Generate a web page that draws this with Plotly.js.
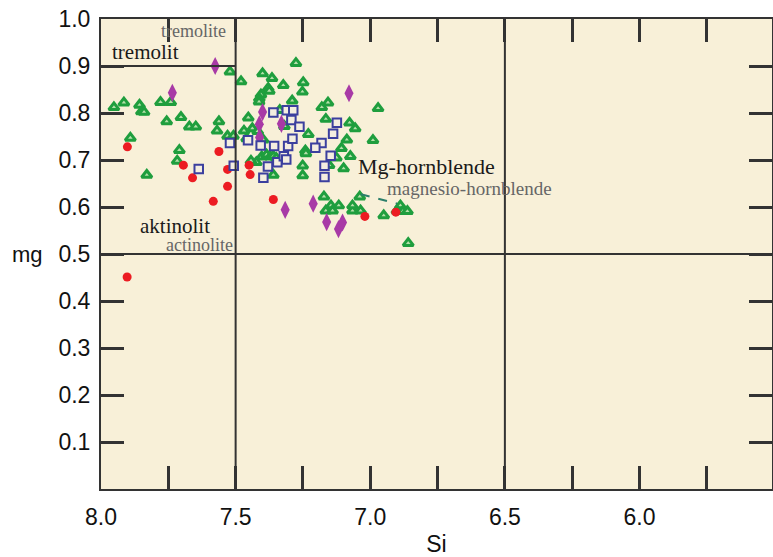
<!DOCTYPE html>
<html>
<head>
<meta charset="utf-8">
<script src="https://cdn.plot.ly/plotly-3.0.1.min.js"></script>
<style>html,body{margin:0;padding:0;background:#fff;}#chart{width:773px;height:557px;}</style>
</head>
<body>
<div id="chart"></div>
<script>
// ---- data (Si, mg) ----
const greenSi = [7.952,7.915,7.857,7.850,7.840,7.779,7.741,7.756,7.703,7.672,7.648,7.562,7.569,7.530,7.508,7.891,7.709,7.717,7.830,7.521,7.480,
  7.400,7.365,7.379,7.375,7.323,7.276,7.249,7.252,7.406,7.412,7.413,7.290,7.336,7.180,7.157,7.165,7.230,7.453,7.469,7.438,7.418,7.459,7.398,7.319,
  7.403,7.423,7.385,7.371,7.360,7.349,7.241,7.239,7.251,7.251,7.360,6.971,7.077,7.056,7.087,6.990,7.107,7.074,7.126,7.153,7.099,
  7.172,7.039,7.146,7.117,7.165,7.140,7.066,7.036,7.066,6.950,6.888,6.901,6.879,6.862,6.859,7.443,7.332];
const greenMg = [0.812,0.822,0.817,0.803,0.802,0.823,0.823,0.782,0.791,0.771,0.771,0.782,0.762,0.751,0.751,0.747,0.721,0.698,0.668,0.888,0.867,
  0.884,0.874,0.853,0.847,0.859,0.906,0.865,0.845,0.839,0.831,0.824,0.826,0.806,0.812,0.822,0.787,0.755,0.790,0.762,0.767,0.761,0.746,0.743,0.772,
  0.707,0.695,0.711,0.707,0.708,0.704,0.720,0.714,0.688,0.667,0.668,0.810,0.779,0.767,0.743,0.742,0.725,0.708,0.705,0.689,0.682,
  0.622,0.622,0.603,0.603,0.592,0.592,0.592,0.592,0.603,0.582,0.603,0.592,0.591,0.591,0.523,0.698,0.702];

const redSi = [7.902,7.903,7.694,7.660,7.562,7.530,7.530,7.583,7.450,7.446,7.360,7.020,6.905];
const redMg = [0.728,0.451,0.689,0.662,0.718,0.680,0.644,0.612,0.689,0.669,0.616,0.580,0.589];

const purpleSi = [7.576,7.735,7.400,7.412,7.330,7.411,7.079,7.316,7.212,7.162,7.118,7.103];
const purpleMg = [0.900,0.843,0.802,0.776,0.777,0.748,0.842,0.594,0.607,0.568,0.553,0.567];

const blueSi = [7.637,7.521,7.507,7.454,7.407,7.357,7.305,7.360,7.310,7.286,7.293,7.263,7.289,7.380,7.397,7.345,7.321,7.312,7.181,7.204,7.170,7.170,7.124,7.138,7.147];
const blueMg = [0.681,0.736,0.688,0.742,0.731,0.730,0.730,0.801,0.806,0.806,0.785,0.771,0.745,0.686,0.662,0.695,0.708,0.701,0.736,0.726,0.688,0.664,0.779,0.756,0.709];

const xTickVals = [8.0,7.75,7.5,7.25,7.0,6.75,6.5,6.25,6.0,5.75];
const xTickText = ['8.0','','7.5','','7.0','','6.5','','6.0',''];
const yTickVals = [0.1,0.2,0.3,0.4,0.5,0.6,0.7,0.8,0.9,1.0];
const yTickText = ['0.1','0.2','0.3','0.4','0.5','0.6','0.7','0.8','0.9','1.0'];

const LINE = '#333333';
const XMIN = 8.0, XMAX = 5.508, YMIN = 0, YMAX = 1.0;

const traces = [
  {x: greenSi, y: greenMg, type:'scatter', mode:'markers',
   marker:{symbol:'triangle-up', size:9, color:'#b5e0aa', line:{color:'#1f9e3e', width:3}}},
  {x: purpleSi, y: purpleMg, type:'scatter', mode:'markers',
   marker:{symbol:'diamond-tall', size:13, color:'#a83aa6', line:{width:0}}},
  {x: redSi, y: redMg, type:'scatter', mode:'markers',
   marker:{symbol:'circle', size:9, color:'#ec1c22', line:{width:0}}},
  {x: blueSi, y: blueMg, type:'scatter', mode:'markers',
   marker:{symbol:'square', size:8.5, color:'#f4eee0', line:{color:'#3b3f9e', width:2}}}
];

const serif = 'Liberation Serif, Times New Roman, serif';
const sans = 'Liberation Sans, Arial, sans-serif';
const layout = {
  width:773, height:557,
  margin:{l:101, r:1, t:19, b:68},
  paper_bgcolor:'#ffffff', plot_bgcolor:'#f8f0d8',
  showlegend:false, hovermode:false,
  xaxis:{range:[XMIN, XMAX], tickmode:'array', tickvals:xTickVals, ticktext:xTickText,
    ticks:'inside', ticklen:23, tickwidth:2.5, tickcolor:LINE, ticklabelstandoff:6,
    showline:true, linecolor:LINE, linewidth:2, mirror:'allticks',
    showgrid:false, zeroline:false,
    tickfont:{family:sans, size:23, color:'#111'},
    title:{text:'Si', font:{family:sans, size:23, color:'#111'}, standoff:8}},
  yaxis:{range:[YMIN, YMAX], tickmode:'array', tickvals:yTickVals, ticktext:yTickText,
    ticks:'inside', ticklen:23, tickwidth:2.5, tickcolor:LINE, ticklabelstandoff:4,
    showline:true, linecolor:LINE, linewidth:2, mirror:'allticks',
    showgrid:false, zeroline:false,
    tickfont:{family:sans, size:23, color:'#111'}},
  shapes:[
    {type:'line', xref:'x', yref:'paper', x0:7.5, x1:7.5, y0:0, y1:1, line:{color:LINE, width:2}},
    {type:'line', xref:'x', yref:'paper', x0:6.5, x1:6.5, y0:0, y1:1, line:{color:LINE, width:2}},
    {type:'line', xref:'paper', yref:'y', x0:0, x1:1, y0:0.5, y1:0.5, line:{color:LINE, width:2}},
    {type:'line', xref:'x', yref:'y', x0:8.0, x1:7.5, y0:0.9, y1:0.9, line:{color:LINE, width:2}},
    {type:'line', xref:'x', yref:'y', x0:7.035, x1:6.9, y0:0.627, y1:0.607, line:{color:'#2b7f6a', width:2, dash:'dash'}}
  ],
  annotations:[
    {x:7.658, y:0.974, xref:'x', yref:'y', text:'tremolite', showarrow:false, font:{family:serif, size:18, color:'#666'}},
    {x:7.835, y:0.930, xref:'x', yref:'y', text:'tremolit', showarrow:false, font:{family:serif, size:21, color:'#1a1a1a'}},
    {x:7.726, y:0.559, xref:'x', yref:'y', text:'aktinolit', showarrow:false, font:{family:serif, size:21, color:'#1a1a1a'}},
    {x:7.633, y:0.520, xref:'x', yref:'y', text:'actinolite', showarrow:false, font:{family:serif, size:18, color:'#666'}},
    {x:6.791, y:0.686, xref:'x', yref:'y', text:'Mg-hornblende', showarrow:false, font:{family:serif, size:22, color:'#1a1a1a'}},
    {x:6.630, y:0.639, xref:'x', yref:'y', text:'magnesio-hornblende', showarrow:false, font:{family:serif, size:19, color:'#666'}},
    {x:-0.11, y:0.5, xref:'paper', yref:'y', text:'mg', showarrow:false, xanchor:'center', font:{family:sans, size:22, color:'#111'}}
  ]
};
Plotly.newPlot('chart', traces, layout, {displayModeBar:false});
</script>
</body>
</html>
